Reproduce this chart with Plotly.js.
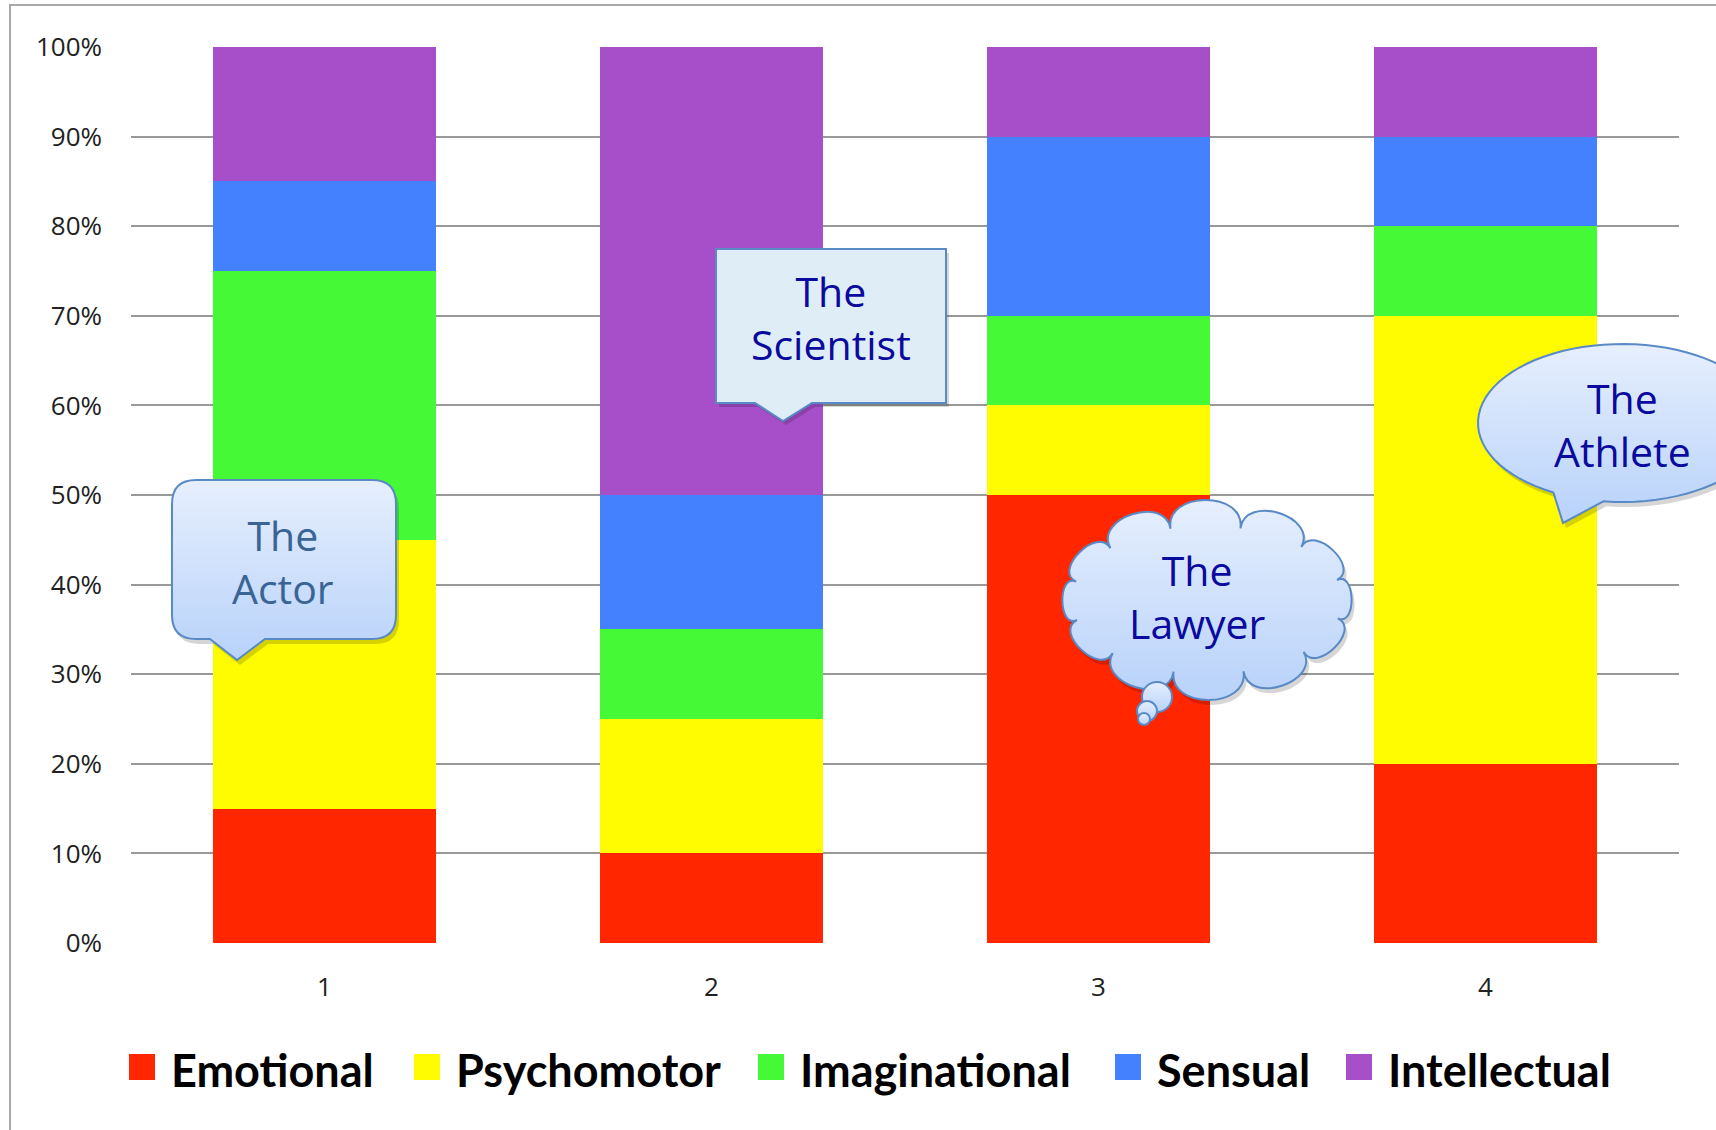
<!DOCTYPE html>
<html><head><meta charset="utf-8">
<script src="https://cdn.plot.ly/plotly-3.0.1.min.js"></script>
<style>html,body{margin:0;padding:0;background:#fff}#chart{width:1716px;height:1130px}</style>
</head><body><div id="chart"></div>
<script>
// ---------- data ----------
const categories = [1, 2, 3, 4];
const tickLabels = ['1', '2', '3', '4'];
const seriesNames = ['Emotional', 'Psychomotor', 'Imaginational', 'Sensual', 'Intellectual'];
const emotional     = [15, 10, 50, 20];
const psychomotor   = [30, 15, 10, 50];
const imaginational = [30, 10, 10, 10];
const sensual       = [10, 15, 20, 10];
const intellectual  = [15, 50, 10, 10];
const yTicks = [0, 10, 20, 30, 40, 50, 60, 70, 80, 90, 100];
const calloutTexts = ['The<br>Actor', 'The<br>Scientist', 'The<br>Lawyer', 'The<br>Athlete'];

// ---------- styles ----------
const seriesColors = ['#FF2600', '#FFFB00', '#46F936', '#4381FF', '#A64FC9'];
const seriesValues = [emotional, psychomotor, imaginational, sensual, intellectual];

// plot area in pixels
const ML = 131, MT = 47, PW = 1548, PH = 896;
const px = x => (x - ML) / PW;
const py = y => (MT + PH - y) / PH;
const P = (x, y) => px(x).toFixed(5) + ',' + py(y).toFixed(5);

const data = seriesValues.map((vals, i) => ({
  type: 'bar', x: categories, y: vals, name: seriesNames[i],
  marker: {color: seriesColors[i], line: {width: 0}},
  showlegend: false, hoverinfo: 'skip'
}));

const shapes = [];
const annotations = [];

// frame border
shapes.push({type: 'rect', xref: 'paper', yref: 'paper', x0: px(10), x1: px(1740), y0: py(5), y1: py(1150),
  line: {color: '#A8A8A8', width: 2}, fillcolor: 'rgba(0,0,0,0)', layer: 'below'});

const GRAD = 'rgb(207,224,250)';
const EDGE = '#5A8AC6';
function addCallout(d, fill, shadow) {
  if (shadow) shapes.push({type: 'path', xref: 'paper', yref: 'paper', path: shadow, fillcolor: 'rgba(0,0,0,0.16)', line: {width: 0}, layer: 'above'});
  shapes.push({type: 'path', xref: 'paper', yref: 'paper', path: d, fillcolor: fill, line: {color: EDGE, width: 2}, layer: 'above'});
}

// Actor: rounded rectangle with tail
function actorPath(dx, dy) {
  const L = 172 + dx, T = 480 + dy, R = 396 + dx, B = 639 + dy, r = 24;
  return 'M' + P(L + r, T) + ' L' + P(R - r, T) + ' Q' + P(R, T) + ' ' + P(R, T + r) +
    ' L' + P(R, B - r) + ' Q' + P(R, B) + ' ' + P(R - r, B) +
    ' L' + P(265 + dx, B) + ' L' + P(237 + dx, 660 + dy) + ' L' + P(210 + dx, B) +
    ' L' + P(L + r, B) + ' Q' + P(L, B) + ' ' + P(L, B - r) +
    ' L' + P(L, T + r) + ' Q' + P(L, T) + ' ' + P(L + r, T) + ' Z';
}
addCallout(actorPath(0, 0), GRAD, actorPath(3, 5));

// Scientist: rectangle with tail
function sciPath(dx, dy) {
  const L = 716 + dx, T = 249 + dy, R = 946 + dx, B = 403 + dy;
  return 'M' + P(L, T) + ' L' + P(R, T) + ' L' + P(R, B) + ' L' + P(812 + dx, B) +
    ' L' + P(783 + dx, 421 + dy) + ' L' + P(755 + dx, B) + ' L' + P(L, B) + ' Z';
}
addCallout(sciPath(0, 0), '#DFEEF6', sciPath(3, 4));

// Lawyer: cloud
function cloudPath(cx, cy, rx, ry, n, rot) {
  const pts = [];
  for (let i = 0; i < n; i++) {
    const t = rot + 2 * Math.PI * i / n;
    const nx = Math.cos(t) / rx, ny = Math.sin(t) / ry, nl = Math.hypot(nx, ny);
    pts.push({x: cx + rx * Math.cos(t), y: cy + ry * Math.sin(t), nx: nx / nl, ny: ny / nl});
  }
  let d = 'M' + P(pts[0].x, pts[0].y);
  for (let i = 0; i < n; i++) {
    const a = pts[i], b = pts[(i + 1) % n];
    const k = 0.55 * Math.hypot(b.x - a.x, b.y - a.y);
    d += ' C' + P(a.x + a.nx * k, a.y + a.ny * k) + ' ' + P(b.x + b.nx * k, b.y + b.ny * k) + ' ' + P(b.x, b.y);
  }
  return d + ' Z';
}
addCallout(cloudPath(1207, 600, 135, 74, 12, 0.25), GRAD, cloudPath(1210, 605, 135, 74, 12, 0.25));
[[1157, 697, 15], [1147, 711, 10], [1144, 719, 6]].forEach(c => {
  shapes.push({type: 'circle', xref: 'paper', yref: 'paper', x0: px(c[0] - c[2]), x1: px(c[0] + c[2]),
    y0: py(c[1] + c[2]), y1: py(c[1] - c[2]), fillcolor: GRAD, line: {color: EDGE, width: 2}, layer: 'above'});
});

// Athlete: oval speech bubble
function athletePath(dx, dy) {
  const cx = 1622 + dx, cy = 423 + dy, rx = 144, ry = 79;
  const t1 = 2.067, t2 = 1.70 + 2 * Math.PI, steps = 80;
  let d = '';
  for (let i = 0; i <= steps; i++) {
    const t = t1 + (t2 - t1) * i / steps;
    d += (i === 0 ? 'M' : ' L') + P(cx + rx * Math.cos(t), cy + ry * Math.sin(t));
  }
  return d + ' L' + P(1563 + dx, 523 + dy) + ' Z';
}
addCallout(athletePath(0, 0), GRAD, athletePath(3, 5));

// callout texts
const calloutPos = [[283, 561, '#3A6495'], [831, 318, '#0A0A9E'], [1197, 596, '#0A0A9E'], [1622, 424, '#0A0A9E']];
calloutTexts.forEach((t, i) => {
  annotations.push({text: t, xref: 'paper', yref: 'paper', x: px(calloutPos[i][0]), y: py(calloutPos[i][1]),
    xanchor: 'center', yanchor: 'middle', showarrow: false, align: 'center',
    font: {family: 'Open Sans, sans-serif', size: 41, color: calloutPos[i][2]}});
});

// custom legend
const legendLeft = [129, 414, 758, 1115, 1346];
seriesNames.forEach((n, i) => {
  const L = legendLeft[i];
  shapes.push({type: 'rect', xref: 'paper', yref: 'paper', x0: px(L), x1: px(L + 26), y0: py(1080), y1: py(1054),
    fillcolor: seriesColors[i], line: {width: 0}});
  annotations.push({text: n, xref: 'paper', yref: 'paper', x: px(L + 40), y: py(1070), xanchor: 'left', yanchor: 'middle',
    showarrow: false, font: {family: 'Lato, sans-serif', size: 45, weight: 700, color: '#000'}});
});

const layout = {
  width: 1716, height: 1130,
  margin: {l: ML, r: 1716 - ML - PW, t: MT, b: 1130 - MT - PH, pad: 0},
  paper_bgcolor: '#fff', plot_bgcolor: '#fff',
  barmode: 'stack', bargap: 0.426,
  showlegend: false,
  xaxis: {range: [0.5, 4.5], tickvals: categories, ticktext: tickLabels, showgrid: false, zeroline: false,
    showline: false, ticks: '', ticklabelstandoff: 26,
    tickfont: {family: 'Open Sans, sans-serif', size: 26, color: '#222'}},
  yaxis: {range: [0, 100], tickvals: yTicks, ticktext: yTicks.map(v => v + '%'), showgrid: true,
    gridcolor: '#999', gridwidth: 2, zeroline: false, showline: false, ticks: '', ticklabelstandoff: 28,
    tickfont: {family: 'Open Sans, sans-serif', size: 26, color: '#222'}},
  shapes: shapes, annotations: annotations
};

const gd = document.getElementById('chart');
Plotly.newPlot(gd, data, layout, {staticPlot: true, displayModeBar: false}).then(() => {
  const ns = 'http://www.w3.org/2000/svg';
  const svg = gd.querySelector('.main-svg');
  let defs = svg.querySelector('defs');
  if (!defs) { defs = document.createElementNS(ns, 'defs'); svg.insertBefore(defs, svg.firstChild); }
  const lg = document.createElementNS(ns, 'linearGradient');
  lg.setAttribute('id', 'calloutGrad');
  lg.setAttribute('x1', '0'); lg.setAttribute('y1', '0'); lg.setAttribute('x2', '0'); lg.setAttribute('y2', '1');
  [['0', '#E6EFFD'], ['1', '#B8D2FA']].forEach(s => {
    const st = document.createElementNS(ns, 'stop');
    st.setAttribute('offset', s[0]); st.setAttribute('stop-color', s[1]);
    lg.appendChild(st);
  });
  defs.appendChild(lg);
  gd.querySelectorAll('.shapelayer path').forEach(p => {
    if ((p.style.fill || '').replace(/\s/g, '') === 'rgb(207,224,250)') p.style.fill = 'url(#calloutGrad)';
  });
});
</script>
</body></html>
